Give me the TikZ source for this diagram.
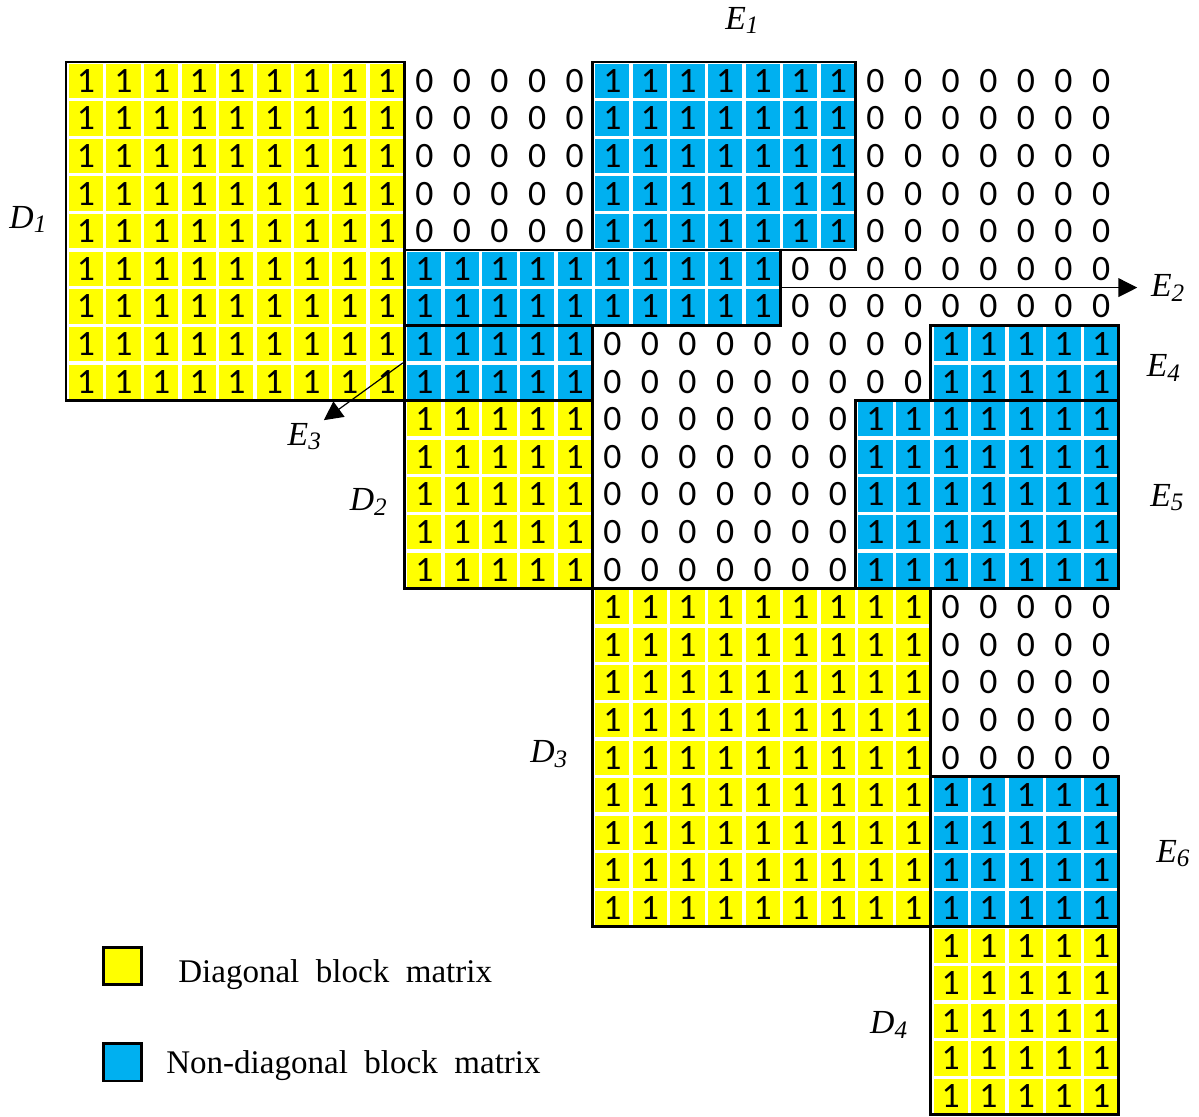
\documentclass[tikz,border=0pt]{standalone}
\usepackage{fontspec}
\setmainfont{Liberation Serif}
\newfontfamily\digitfont{Carlito}
\usetikzlibrary{fit,arrows.meta}

\definecolor{diagyellow}{RGB}{255,255,0}
\definecolor{offblue}{RGB}{0,176,240}

% block name with lowered italic index
\newcommand{\blklabel}[2]{\textit{#1}\raisebox{-3.5pt}{\fontsize{19}{19}\selectfont\textit{#2}}}

\tikzset{
  cellbase/.style={rectangle, inner sep=0pt, minimum size=0.91cm, font=\digitfont\fontsize{27}{27}\selectfont},
  dcell/.style={cellbase, fill=diagyellow},
  ecell/.style={cellbase, fill=offblue},
  zcell/.style={cellbase},
  blockframe/.style={rectangle, draw=black, line width=2.2pt, inner sep=0pt},
  blklbl/.style={anchor=base west, inner sep=2pt, font=\fontsize{25.5}{26}\selectfont},
  pointer/.style={-{Triangle[length=0.5cm,width=0.5cm]}, line width=0.9pt},
  keybox/.style={rectangle, draw=black, line width=2.2pt, minimum size=1cm, inner sep=0pt},
  keytext/.style={anchor=base west, inner sep=0pt, font=\fontsize{25}{26}\selectfont}
}

\begin{document}
\begin{tikzpicture}
    \useasboundingbox (-1.755,1.649) rectangle (30.133,-28.032);
    % cells: rows a-b, columns a-b, kind, entry
    \foreach \ra/\rb/\ca/\cb/\kind/\val in {
        0/8/0/8/dcell/1, 0/4/9/13/zcell/0, 0/4/14/20/ecell/1, 0/4/21/27/zcell/0,
        5/6/9/18/ecell/1, 5/6/19/27/zcell/0,
        7/8/9/13/ecell/1, 7/8/14/22/zcell/0, 7/8/23/27/ecell/1,
        9/13/9/13/dcell/1, 9/13/14/20/zcell/0, 9/13/21/27/ecell/1,
        14/22/14/22/dcell/1, 14/18/23/27/zcell/0, 19/22/23/27/ecell/1,
        23/27/23/27/dcell/1} {
        \foreach \r in {\ra,...,\rb}
            \foreach \c in {\ca,...,\cb}
                \node[\kind] (c-\r-\c) at (\c+0.53,-\r-0.5) {\val};
    }
    % block frames
    \node[blockframe, fit={(0,0) (9,-9)}] (D1) {};
    \node[blockframe, fit={(14,0) (21,-5)}] (E1) {};
    \node[blockframe, fit={(9,-5) (19,-7)}] (E2) {};
    \node[blockframe, fit={(9,-7) (14,-9)}] (E3) {};
    \node[blockframe, fit={(23,-7) (28,-9)}] (E4) {};
    \node[blockframe, fit={(9,-9) (14,-14)}] (D2) {};
    \node[blockframe, fit={(21,-9) (28,-14)}] (E5) {};
    \node[blockframe, fit={(14,-14) (23,-23)}] (D3) {};
    \node[blockframe, fit={(23,-19) (28,-23)}] (E6) {};
    \node[blockframe, fit={(23,-23) (28,-28)}] (D4) {};
    % labels
    \node[blklbl] (lE1) at (17.46,0.87) {\blklabel{E}{1}};
    \node[blklbl] (lD1) at (-1.58,-4.42) {\blklabel{D}{1}};
    \node[blklbl] (lE2) at (28.78,-6.24) {\blklabel{E}{2}};
    \node[blklbl] (lE3) at (5.82,-10.19) {\blklabel{E}{3}};
    \node[blklbl] (lE4) at (28.67,-8.37) {\blklabel{E}{4}};
    \node[blklbl] (lE5) at (28.76,-11.81) {\blklabel{E}{5}};
    \node[blklbl] (lE6) at (28.92,-21.28) {\blklabel{E}{6}};
    \node[blklbl] (lD2) at (7.47,-11.93) {\blklabel{D}{2}};
    \node[blklbl] (lD3) at (12.27,-18.63) {\blklabel{D}{3}};
    \node[blklbl] (lD4) at (21.31,-25.85) {\blklabel{D}{4}};
    \draw[pointer, shorten >=0.29cm] (E2.east) -- (E2.east -| lE2.west);
    \draw[pointer] (E3.west) -- (lE3.north east);
    % legend
    \node[keybox, fill=diagyellow] (keyD) at (1.505,-24.04) {};
    \node[keybox, fill=offblue] (keyE) at (1.505,-26.6) {};
    \node[keytext] (txtD) at (2.98,-24.48) {Diagonal~~block~~matrix};
    \node[keytext] (txtE) at (2.66,-26.9) {Non-diagonal~~block~~matrix};
\end{tikzpicture}
\end{document}
